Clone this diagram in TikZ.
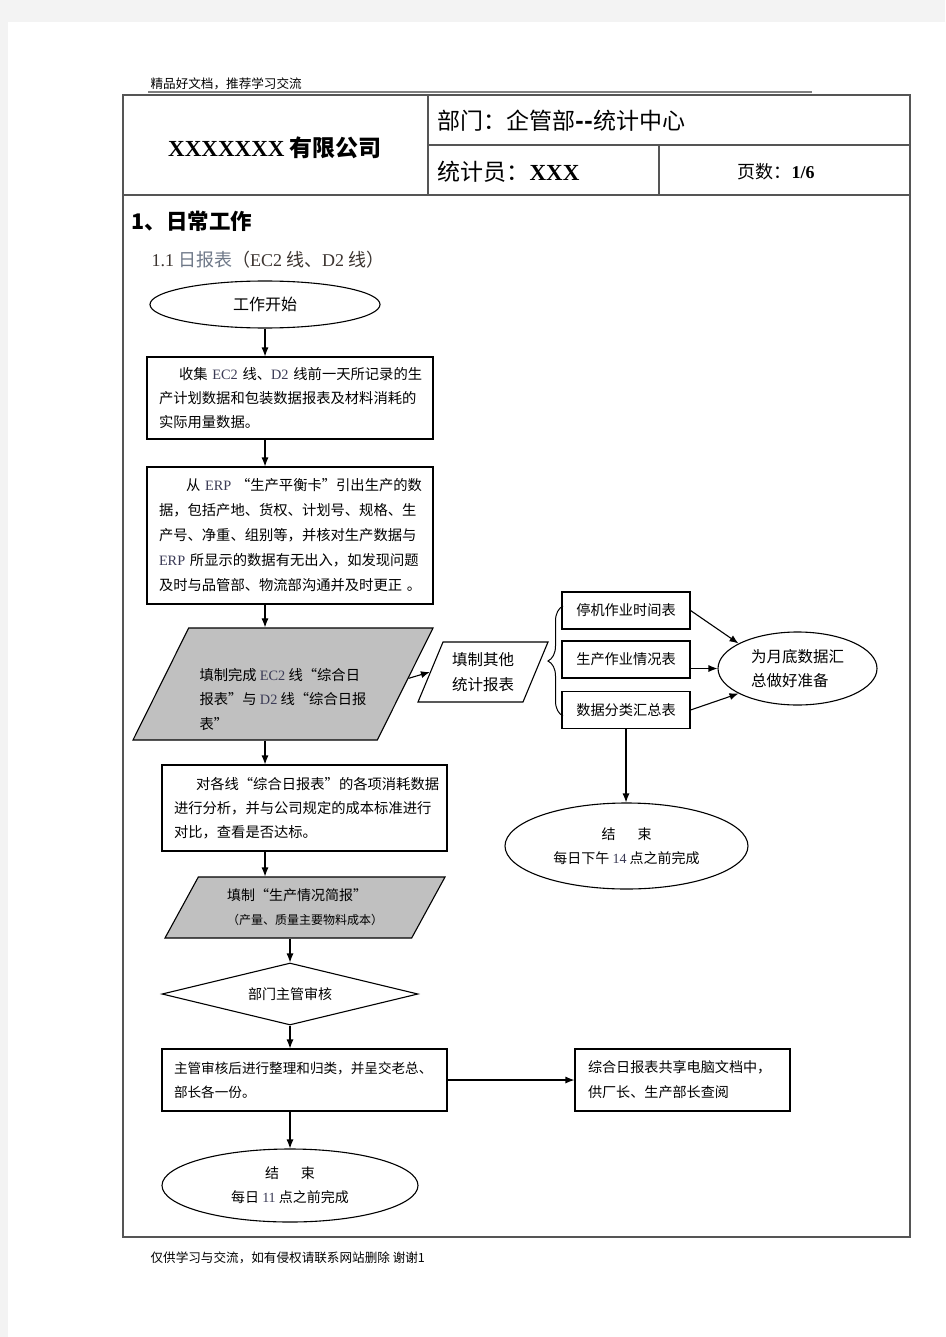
\documentclass[tikz,border=0pt]{standalone}
\usepackage{fontspec}
\setmainfont{Liberation Serif}
\newfontfamily\cjk{Noto Sans CJK SC}
\usetikzlibrary{shapes.geometric,arrows.meta,decorations.pathreplacing,calc}

\definecolor{pagebg}{HTML}{F3F3F3}
\definecolor{tblgray}{HTML}{555555}
\definecolor{notegray}{HTML}{808080}
\definecolor{boxgray}{HTML}{C0C0C0}
\definecolor{latin}{HTML}{3A3A55}
\definecolor{subdark}{HTML}{3C3430}
\definecolor{subblue}{HTML}{6E7888}
\newcommand{\entxt}[1]{{\rmfamily\color{latin}#1}}

\begin{document}
\begin{tikzpicture}[x=1pt,y=-1pt,line width=1.1pt,
    txt/.style={inner sep=0pt,font=\cjk\fontsize{14.3}{24}\selectfont},
    box/.style={draw,rectangle,inner xsep=12pt,inner ysep=0pt,align=left,
        font=\cjk\fontsize{14.3}{24}\selectfont},
    smallbox/.style={draw,rectangle,minimum width=128pt,minimum height=37pt,
        inner sep=0pt,font=\cjk\fontsize{14.2}{18}\selectfont},
    term/.style={draw,ellipse,inner sep=0pt,align=center,
        font=\cjk\fontsize{14}{24}\selectfont},
    io/.style={draw,trapezium,trapezium stretches body,inner sep=0pt},
    check/.style={draw,diamond,inner sep=0pt,aspect=4.1,
        font=\cjk\fontsize{14}{18}\selectfont},
    arr/.style={-{Latex[length=9pt,width=7pt]}},
    tbl/.style={draw=tblgray,line width=1.6pt}]

    % page
    \useasboundingbox (0,0) rectangle (945,1337);
    \fill[pagebg] (0,0) rectangle (945,1337);
    \fill[white] (8,22) rectangle (945,1337);

    % header and table frame
    \node[txt,anchor=west,font=\cjk\fontsize{12.6}{14}\selectfont] (note) at (150,84) {精品好文档，推荐学习交流};
    \draw[notegray,line width=2pt] (148,92) -- (812,92);
    \draw[tbl] (123,95) rectangle (910,1237);
    \draw[tbl] (428,95) -- (428,195);
    \draw[tbl] (428,145) -- (910,145);
    \draw[tbl] (123,195) -- (910,195);
    \draw[tbl] (659,145) -- (659,195);

    \node[txt,font=\cjk\bfseries\fontsize{23}{26}\selectfont] (company) at (275,148) {{\rmfamily\bfseries XXXXXXX} 有限公司};
    \node[txt,anchor=west,font=\cjk\fontsize{23}{26}\selectfont] (dept) at (437,121) {部门：企管部{\bfseries -{}-}统计中心};
    \node[txt,anchor=west,font=\cjk\fontsize{23}{26}\selectfont] (stat) at (437,172) {统计员：{\rmfamily\bfseries XXX}};
    \node[txt,font=\cjk\fontsize{18}{22}\selectfont] (pages) at (776,172) {页数：{\rmfamily\bfseries 1/6}};

    \node[txt,anchor=west,font=\cjk\bfseries\fontsize{21.5}{24}\selectfont] (sec) at (131,221) {1、日常工作};
    \node[txt,anchor=west,text=subdark,font=\cjk\fontsize{18}{22}\selectfont] (subsec) at (151,260) {{\rmfamily 1.1} {\color{subblue}日报表}（{\rmfamily EC2} 线、{\rmfamily D2} 线）};

    % main flow
    \node[term,minimum width=230pt,minimum height=47pt,font=\cjk\fontsize{16}{20}\selectfont] (start) at (265,304.5) {工作开始};
    \node[box,text width=262pt,minimum height=82pt] (collect) at (290,398) {\hspace*{20pt}收集~\entxt{EC2}~线、\entxt{D2}~线前一天所记录的生\\产计划数据和包装数据报表及材料消耗的\\实际用量数据。};
    \node[box,text width=262pt,minimum height=137pt,font=\cjk\fontsize{14.3}{25}\selectfont] (erp) at (290,535.5) {\hspace*{27pt}从~\entxt{ERP}~“生产平衡卡”引出生产的数\\据，包括产地、货权、计划号、规格、生\\产号、净重、组别等，并核对生产数据与\\\entxt{ERP}~所显示的数据有无出入，如发现问题\\及时与品管部、物流部沟通并及时更正~。};
    \node[io,fill=boxgray,minimum width=300pt,minimum height=112pt,trapezium left angle=59,trapezium right angle=121,align=left,font=\cjk\fontsize{14.3}{24.5}\selectfont] (fill1) at (283,684) {\rule{0pt}{18pt}\\填制完成~\entxt{EC2}~线“综合日\\报表”与~\entxt{D2}~线“综合日报\\表”};

    % side branch
    \node[io,fill=white,minimum width=130pt,minimum height=60pt,trapezium left angle=57.5,trapezium right angle=122.5,align=center,font=\cjk\fontsize{15.5}{25}\selectfont] (other) at (483,672) {填制其他\\统计报表};
    \coordinate (brbot) at (563,716);
    \coordinate (brtop) at (563,606);
    \draw[line width=1pt,decorate,decoration={brace,amplitude=15pt}] (brbot) -- (brtop);
    \node[smallbox] (stopt) at (626,610.5) {停机作业时间表};
    \node[smallbox] (prod) at (626,659.5) {生产作业情况表};
    \node[smallbox] (sum) at (626,710) {数据分类汇总表};
    \node[term,minimum width=159pt,minimum height=73pt,align=left,font=\cjk\fontsize{15.5}{24}\selectfont] (prep) at (797.5,668.5) {为月底数据汇\\总做好准备};
    \node[term,minimum width=243pt,minimum height=86pt] (end1) at (626.5,846) {结\hspace{22pt}束\\每日下午~\entxt{14}~点之前完成};

    % lower flow
    \node[box,text width=261pt,minimum height=86pt] (analyse) at (304.5,808) {\hspace*{22pt}对各线“综合日报表”的各项消耗数据\\进行分析，并与公司规定的成本标准进行\\对比，查看是否达标。};
    \node[io,fill=boxgray,minimum width=280pt,minimum height=61pt,trapezium left angle=48,trapezium right angle=132,align=left,font=\cjk\fontsize{14}{20}\selectfont] (brief) at (305,907.5) {填制“生产情况简报”\\[4pt]{\fontsize{12}{14}\selectfont（产量、质量主要物料成本）}};
    \node[check,minimum width=256pt,minimum height=62pt] (review) at (290,994) {部门主管审核};
    \node[box,text width=261pt,minimum height=62pt,font=\cjk\fontsize{13.6}{24}\selectfont] (sortout) at (304.5,1080) {主管审核后进行整理和归类，并呈交老总、\\部长各一份。};
    \node[box,text width=189pt,inner xsep=13pt,minimum height=62pt,font=\cjk\fontsize{14.1}{25}\selectfont] (share) at (682.5,1080) {综合日报表共享电脑文档中，\\供厂长、生产部长查阅};
    \node[term,minimum width=256pt,minimum height=73pt] (end2) at (290,1185.5) {结\hspace{22pt}束\\每日~\entxt{11}~点之前完成};

    \node[txt,anchor=west,font=\cjk\fontsize{12.6}{14}\selectfont] (foot) at (150,1258) {仅供学习与交流，如有侵权请联系网站删除~谢谢1};

    % connectors
    \draw[arr] (start.south) -- (start.south |- collect.north);
    \draw[arr] (collect.south -| start) -- (erp.north -| start);
    \draw[arr] (erp.south -| start) -- (fill1.north -| start);
    \draw[arr] ($(fill1.top right corner)!0.45!(fill1.bottom right corner)$) -- (other.west);
    \draw[arr] (stopt.east) -- (prep.157);
    \draw[arr] (prod.east |- prep) -- (prep.west);
    \draw[arr] (sum.east) -- (prep.203);
    \draw[arr] (sum.south) -- (sum.south |- end1.north);
    \draw[arr] (fill1.south -| start) -- (analyse.north -| start);
    \draw[arr] (analyse.south -| start) -- (brief.north -| start);
    \draw[arr] (brief.south -| review) -- (review.north);
    \draw[arr] (review.south) -- (review.south |- sortout.north);
    \draw[arr] (sortout.east) -- (share.west);
    \draw[arr] (sortout.south -| end2) -- (end2.north);
\end{tikzpicture}
\end{document}
